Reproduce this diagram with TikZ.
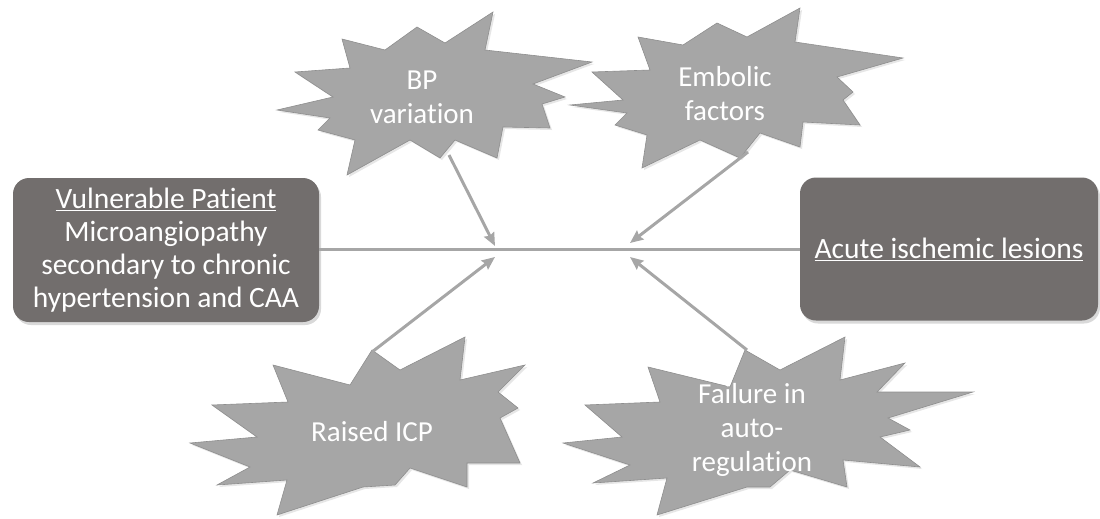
\documentclass[tikz,border=0pt]{standalone}
\usepackage{fontspec}
\setmainfont[Ligatures=NoCommon]{Carlito}
\usetikzlibrary{arrows.meta,shadows}
\definecolor{boxgray}{HTML}{726E6D}
\definecolor{stargray}{HTML}{A6A6A6}
\definecolor{starline}{HTML}{8E8E8E}
\definecolor{linegray}{HTML}{A6A6A6}
\begin{document}
\begin{tikzpicture}[x=1pt,y=-1pt,
  boxnode/.style={fill=boxgray, rounded corners=16pt, text=white, align=center,
    inner sep=0pt,
    drop shadow={opacity=0.3,shadow xshift=2pt,shadow yshift=-3pt}},
  starshape/.style={fill=stargray, draw=starline, line width=0.6pt, line join=miter,
    drop shadow={opacity=0.2,shadow xshift=2pt,shadow yshift=-2pt}},
  startext/.style={text=white, align=center, font=\fontsize{29}{34}\selectfont, inner sep=0pt},
  mainline/.style={draw=linegray, line width=3pt},
  feeder/.style={draw=linegray, line width=3pt, -{Stealth[length=13pt,width=11pt,inset=1.5pt]}}]
\useasboundingbox (0,0) rectangle (1100,519);

% boxes
\node[boxnode, font=\fontsize{29.5}{33}\selectfont, minimum width=306pt, minimum height=144pt] (vp) at (166,250)
  {\underline{Vulnerable Patient}\\Microangiopathy\\secondary to chronic\\hypertension and CAA};
\node[boxnode, font=\fontsize{29.5}{33}\selectfont, minimum width=298pt, minimum height=143pt] (ail) at (949,249)
  {\underline{Acute ischemic lesions}};

% main line
\draw[mainline] (vp.east |- 0,249) -- (ail.west |- 0,249);

% starbursts
\path[starshape] (277,110) -- (333,97) -- (295,72) -- (350,68) -- (342,39) -- (385,50)
  -- (417,27) -- (445,43) -- (493,12) -- (485,50) -- (592,62) -- (533,84) -- (565,97)
  -- (542,104) -- (550,128) -- (503,127) -- (497,158) -- (455,140) -- (440,158)
  -- (410,140) -- (347,175) -- (355,140) -- (318,130) -- (330,118) -- cycle;
\path[starshape] (570,105) -- (623,100) -- (592,72) -- (650,70) -- (638,37) -- (683,45)
  -- (717,23) -- (747,37) -- (800,8) -- (795,42) -- (903,58) -- (837,77) -- (853,92)
  -- (843,100) -- (860,125) -- (803,122) -- (800,147) -- (760,133) -- (740,158)
  -- (700,140) -- (642,168) -- (647,135) -- (615,125) -- (627,113) -- cycle;
\path[starshape] (190,443) -- (257,437) -- (212,405) -- (288,402) -- (273,365) -- (350,385)
  -- (372,350) -- (400,370) -- (465,337) -- (460,380) -- (525,365) -- (498,392)
  -- (518,408) -- (500,418) -- (520,463) -- (467,463) -- (467,487) -- (410,468)
  -- (395,485) -- (363,487) -- (277,515) -- (287,480) -- (217,485) -- (250,467) -- cycle;
\path[starshape] (563,443) -- (622,437) -- (585,405) -- (660,402) -- (648,367) -- (730,387)
  -- (745,350) -- (780,370) -- (845,337) -- (840,380) -- (905,363) -- (877,392)
  -- (973,392) -- (888,418) -- (910,430) -- (880,437) -- (920,467) -- (843,460)
  -- (847,487) -- (790,470) -- (770,487) -- (747,487) -- (657,515) -- (667,478)
  -- (593,483) -- (630,465) -- cycle;

% star texts
\node[startext] (bp) at (422,97) {BP\\variation};
\node[startext] (emb) at (725,94) {Embolic\\factors};
\node[startext] (icp) at (372,432) {Raised ICP};
\node[startext] (fail) at (752,430) {Failure in\\auto-\\regulation};

% arrow anchors
\coordinate (bpS) at (449,155);
\coordinate (bpE) at (495,246);
\coordinate (embS) at (748,152);
\coordinate (embE) at (630,243);
\coordinate (icpS) at (372,352);
\coordinate (icpE) at (495,257);
\coordinate (failS) at (747,350);
\coordinate (failE) at (630,257);

\draw[feeder] (bpS) -- (bpE);
\draw[feeder] (embS) -- (embE);
\draw[feeder] (icpS) -- (icpE);
\draw[feeder] (failS) -- (failE);
\end{tikzpicture}
\end{document}
